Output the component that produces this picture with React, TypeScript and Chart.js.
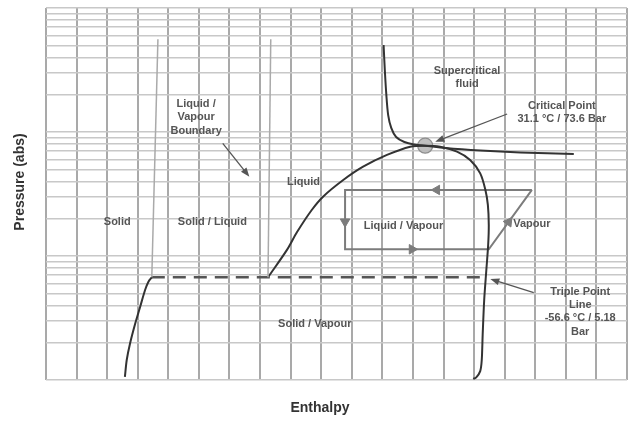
import React, { useEffect, useRef } from "react";
import { Chart, registerables } from "chart.js";
Chart.register(...registerables);

// y axis: absolute pressure (bar, log grid); x axis: enthalpy (grid units)
const pressureTicks = [1, 2, 3, 4, 5, 6, 7, 8, 9, 10, 20, 30, 40, 50, 60, 70, 80, 90, 100, 200, 300, 400, 500, 600, 700, 800, 900, 1000];

const sublimationH = [2.58, 2.64, 2.75, 2.92, 3.08, 3.24, 3.35, 3.46];
const sublimationP = [1.06, 1.45, 1.98, 2.87, 3.9, 5.32, 6.21, 6.73];

const meltSolidH = [3.46, 3.66];
const meltSolidP = [6.73, 560];
const meltLiquidH = [7.26, 7.35];
const meltLiquidP = [6.73, 560];

const tripleH = [3.46, 14.33];
const tripleP = [6.73, 6.73];

const domeH = [7.26, 7.88, 8.21, 8.69, 9.06, 9.72, 10.37, 11.15, 11.91, 12.4, 12.89, 13.44, 13.87, 14.2, 14.37, 14.45, 14.48, 14.46, 14.4, 14.33, 14.28, 14.25, 14.2, 14.07, 13.97];
const domeP = [6.73, 11.2, 15.6, 23.5, 30.1, 41.0, 52.5, 65.3, 76.1, 77.6, 76.1, 69.4, 59.4, 46.4, 34.1, 25.8, 17.8, 12.3, 7.71, 4.42, 2.31, 1.45, 1.18, 1.05, 1.02];

const isoH = [11.04, 11.08, 11.13, 11.19, 11.29, 11.45, 11.72, 12.04, 12.4, 13.06, 14.2, 15.51, 17.26];
const isoP = [503, 316, 199, 137, 108, 91.2, 83.0, 79.3, 77.6, 74.3, 70.9, 68.4, 66.5];

const criticalH = [12.4];
const criticalP = [77.6];

const cycleH = [15.89, 9.78, 9.78, 14.48, 15.89];
const cycleP = [34.1, 34.1, 11.33, 11.33, 34.1];
const cycleArrowH = [12.78, 9.78, 11.97, 15.13];
const cycleArrowP = [34.1, 18.9, 11.33, 18.8];
const cycleArrowRot = [-90, 180, 90, 36];

const noteFromH = [5.78, 15.08, 15.95];
const noteFromP = [81.1, 139.7, 5.06];
const noteToH = [6.65, 12.73, 14.53];
const noteToP = [43.6, 83.5, 6.52];

const labelText = [
  ["Liquid /", "Vapour", "Boundary"],
  ["Solid"],
  ["Solid / Liquid"],
  ["Liquid"],
  ["Supercritical", "fluid"],
  ["Critical Point", "31.1 °C / 73.6 Bar"],
  ["Liquid / Vapour"],
  ["Vapour"],
  ["Triple Point", "Line", "-56.6 °C / 5.18", "Bar"],
  ["Solid / Vapour"],
];
const labelH = [4.91, 2.33, 5.44, 8.42, 13.77, 16.87, 11.69, 15.89, 17.47, 8.79];
const labelP = [131.4, 18.9, 18.7, 39.7, 274, 143, 17.5, 18.0, 3.56, 2.83];

const xTitle = "Enthalpy";
const yTitle = "Pressure (abs)";

const pts = (xs: number[], ys: number[]) => xs.map((x, i) => ({ x, y: ys[i] }));

const overlayPlugin = {
  id: "overlay",
  afterDatasetsDraw(chart: any) {
    const { ctx, scales } = chart;
    const xs = scales.x;
    const ys = scales.y;
    ctx.save();
    // annotation arrows
    ctx.strokeStyle = "#555";
    ctx.fillStyle = "#555";
    ctx.lineWidth = 1.3;
    for (let i = 0; i < noteFromH.length; i++) {
      const x1 = xs.getPixelForValue(noteFromH[i]);
      const y1 = ys.getPixelForValue(noteFromP[i]);
      const x2 = xs.getPixelForValue(noteToH[i]);
      const y2 = ys.getPixelForValue(noteToP[i]);
      const a = Math.atan2(y2 - y1, x2 - x1);
      const hl = 9, hw = 3.5;
      ctx.beginPath();
      ctx.moveTo(x1, y1);
      ctx.lineTo(x2 - Math.cos(a) * hl * 0.8, y2 - Math.sin(a) * hl * 0.8);
      ctx.stroke();
      ctx.beginPath();
      ctx.moveTo(x2, y2);
      ctx.lineTo(x2 - Math.cos(a) * hl - Math.sin(a) * hw, y2 - Math.sin(a) * hl + Math.cos(a) * hw);
      ctx.lineTo(x2 - Math.cos(a) * hl + Math.sin(a) * hw, y2 - Math.sin(a) * hl - Math.cos(a) * hw);
      ctx.closePath();
      ctx.fill();
    }
    // labels
    ctx.font = "bold 11px 'Liberation Sans', Arial, sans-serif";
    ctx.fillStyle = "#555";
    ctx.textAlign = "center";
    ctx.textBaseline = "middle";
    const lh = 13.3;
    labelText.forEach((lines, i) => {
      const cx = xs.getPixelForValue(labelH[i]);
      const cy = ys.getPixelForValue(labelP[i]);
      const top = cy - ((lines.length - 1) * lh) / 2;
      lines.forEach((t, j) => ctx.fillText(t, cx, top + j * lh));
    });
    // axis titles
    ctx.font = "bold 14px 'Liberation Sans', Arial, sans-serif";
    ctx.fillStyle = "#333";
    ctx.fillText(xTitle, 320, 408);
    ctx.translate(20, 182);
    ctx.rotate(-Math.PI / 2);
    ctx.fillText(yTitle, 0, 0);
    ctx.restore();
  },
};

export default function App() {
  const ref = useRef<HTMLCanvasElement | null>(null);
  useEffect(() => {
    if (!ref.current) return;
    const chart = new Chart(ref.current, {
      type: "scatter",
      data: {
        datasets: [
          { data: pts(sublimationH, sublimationP), showLine: true, borderColor: "#333", borderWidth: 2, pointRadius: 0, tension: 0.3 },
          { data: pts(meltSolidH, meltSolidP), showLine: true, borderColor: "#aaaaaa", borderWidth: 1.5, pointRadius: 0 },
          { data: pts(meltLiquidH, meltLiquidP), showLine: true, borderColor: "#aaaaaa", borderWidth: 1.5, pointRadius: 0 },
          { data: pts(tripleH, tripleP), showLine: true, borderColor: "#555", borderWidth: 2.5, borderDash: [13, 8], pointRadius: 0 },
          { data: pts(domeH, domeP), showLine: true, borderColor: "#333", borderWidth: 2, pointRadius: 0, tension: 0.3 },
          { data: pts(isoH, isoP), showLine: true, borderColor: "#333", borderWidth: 2, pointRadius: 0, tension: 0.3 },
          { data: pts(cycleH, cycleP), showLine: true, borderColor: "#7c7c7c", borderWidth: 2, pointRadius: 0 },
          {
            data: pts(cycleArrowH, cycleArrowP),
            showLine: false,
            pointStyle: "triangle",
            rotation: cycleArrowRot,
            pointRadius: 5.5,
            backgroundColor: "#7c7c7c",
            borderColor: "#7c7c7c",
            borderWidth: 1,
          },
          {
            data: pts(criticalH, criticalP),
            showLine: false,
            pointRadius: 7.5,
            backgroundColor: "rgba(185,185,185,0.9)",
            borderColor: "#8f8f8f",
            borderWidth: 1.2,
          },
        ],
      },
      options: {
        animation: false,
        responsive: false,
        events: [],
        layout: { autoPadding: false, padding: { left: 46, top: 8, right: 4, bottom: 41 } },
        plugins: { legend: { display: false }, tooltip: { enabled: false } },
        scales: {
          x: {
            type: "linear",
            min: 0,
            max: 19,
            ticks: { display: false, stepSize: 1 },
            grid: { color: "#a9a9a9", lineWidth: 2, drawTicks: false },
            border: { display: false },
          },
          y: {
            type: "logarithmic",
            min: 1,
            max: 1000,
            ticks: { display: false },
            afterBuildTicks: (axis: any) => {
              axis.ticks = pressureTicks.map((v) => ({ value: v }));
            },
            grid: { color: "#c8c8c8", lineWidth: 1.5, drawTicks: false },
            border: { display: false },
          },
        },
      } as any,
      plugins: [overlayPlugin],
    });
    return () => chart.destroy();
  }, []);
  return (
    <div style={{ position: "absolute", left: 0, top: 0, width: 631, height: 421, background: "#fff" }}>
      <canvas ref={ref} width={631} height={421} style={{ width: 631, height: 421 }} />
    </div>
  );
}
